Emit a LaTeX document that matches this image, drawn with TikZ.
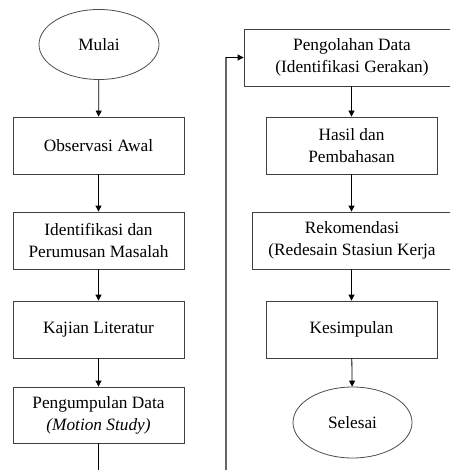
\documentclass[tikz,border=0pt]{standalone}
\usepackage{fontspec}
\setmainfont{Liberation Serif}[Ligatures=TeX]
\newfontfamily\fserif{Liberation Serif}
\usetikzlibrary{arrows.meta,shapes.geometric}
\begin{document}
\begin{tikzpicture}[x=1pt,y=-1pt,
  box/.style={draw=black!75, line width=0.8pt, rectangle, minimum height=57pt, align=center, inner sep=0pt, font=\fserif\fontsize{17.3}{22}\selectfont},
  term/.style={draw=black!70, line width=0.8pt, ellipse, minimum width=120pt, minimum height=70pt, inner sep=0pt, font=\fserif\fontsize{17.3}{22}\selectfont},
  arr/.style={draw=black, line width=0.8pt, -{Triangle[length=6pt,width=6pt]}},
  ln/.style={draw=black, line width=0.8pt},
  back/.style={draw=black!60, line width=1.3pt}]
\useasboundingbox (0,0) rectangle (450,470);
\clip (0,0) rectangle (450,470);
% left column
\node[term] (mulai) at (99,44.5) {Mulai};
\node[box, minimum width=171pt] (obs) at (98.5,145.5) {Observasi Awal};
\node[box, minimum width=171pt] (idm) at (98.5,240.5) {Identifikasi dan\\Perumusan Masalah};
\node[box, minimum width=171pt] (kaj) at (98.5,329.5) {Kajian Literatur};
\node[box, minimum width=171pt, minimum height=56pt] (pgd) at (98.5,415) {Pengumpulan Data\\\textit{(Motion Study)}};
\coordinate (bl) at (98.5,475);
\coordinate (bm) at (226,475);
\coordinate (tm) at (226,57.5);
% right column
\node[box, minimum width=216pt] (olah) at (352,57.5) {Pengolahan Data\\(Identifikasi Gerakan)};
\node[box, minimum width=171pt] (has) at (351.5,145.5) {Hasil dan\\Pembahasan};
\node[box, minimum width=200pt] (rek) at (352,240.5) {Rekomendasi\\(Redesain Stasiun Kerja};
\node[box, minimum width=171pt] (kes) at (351.5,329.5) {Kesimpulan};
\node[term, minimum width=119pt, minimum height=71pt] (sel) at (352.5,422.5) {Selesai};
% connectors
\draw[arr] (mulai) -- (obs);
\draw[arr] (obs) -- (idm);
\draw[arr] (idm) -- (kaj);
\draw[arr] (kaj) -- (pgd);
\draw[ln] (pgd) -- (bl);
\draw[back] (bm) -- (tm);
\draw[arr] (tm) -- (olah.west);
\draw[arr] (olah.south -| has.north) -- (has);
\draw[arr] (has) -- (rek.north -| has.north);
\draw[arr] (rek.south -| kes.north) -- (kes);
\draw[arr] (kes) -- (sel);
\end{tikzpicture}
\end{document}
